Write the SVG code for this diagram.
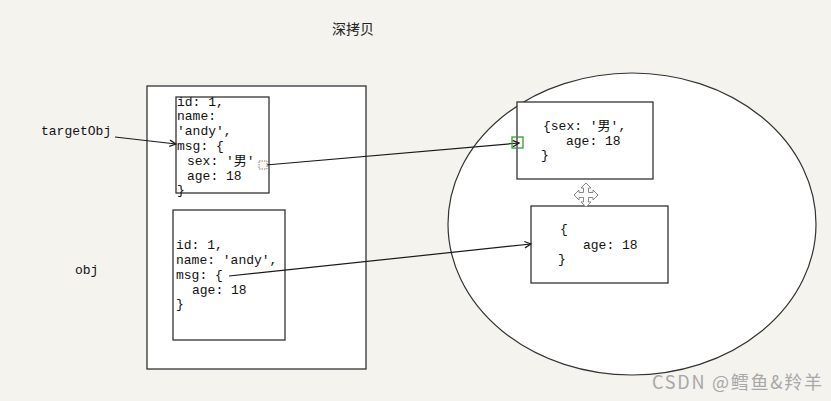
<svg xmlns="http://www.w3.org/2000/svg" width="831" height="401" viewBox="0 0 831 401">
<style>
.box{fill:#ffffff;stroke:#333333;stroke-width:1.3}
.mono{font-family:"Liberation Mono","Noto Sans CJK SC",monospace;font-size:13px;fill:#111;white-space:pre}
.cn{font-family:"Noto Sans CJK SC",sans-serif;fill:#222}
.conn{stroke:#1a1a1a;stroke-width:1.2;fill:none}
</style>
<defs>
<marker id="arr" viewBox="0 0 10 10" refX="9" refY="5" markerWidth="8" markerHeight="8" markerUnits="userSpaceOnUse" orient="auto">
<path d="M1,1 L9,5 L1,9" fill="none" stroke="#1a1a1a" stroke-width="1.6"/>
</marker>
</defs>
<rect width="831" height="401" fill="#f4f3ee"/>
<text class="cn" x="332" y="34" font-size="14">深拷贝</text>
<g id="heap">
<ellipse cx="632" cy="224" rx="184" ry="151" fill="#ffffff" stroke="#333" stroke-width="1.2"/>
</g>
<g id="obj-frame">
<rect class="box" x="147" y="86" width="219" height="283" stroke="#111"/>
</g>
<g id="targetObj-box">
<rect class="box" x="176" y="97" width="93" height="96"/>
<text class="mono" x="177" y="106">id: 1,</text>
<text class="mono" x="177" y="120">name:</text>
<text class="mono" x="177" y="135">'andy',</text>
<text class="mono" x="177" y="150">msg: {</text>
<text class="mono" x="187" y="165">sex: '男'</text>
<text class="mono" x="187" y="180">age: 18</text>
<text class="mono" x="177" y="194">}</text>
</g>
<g id="obj-box">
<rect class="box" x="173" y="210" width="112" height="130"/>
<text class="mono" x="176" y="249">id: 1,</text>
<text class="mono" x="176" y="264">name: 'andy',</text>
<text class="mono" x="176" y="279">msg: {</text>
<text class="mono" x="192" y="294">age: 18</text>
<text class="mono" x="176" y="308">}</text>
</g>
<g id="msg-copy-box">
<rect class="box" x="517" y="102" width="136" height="77"/>
<text class="mono" x="543" y="130">{sex: '男',</text>
<text class="mono" x="566" y="145">age: 18</text>
<text class="mono" x="541" y="159">}</text>
</g>
<g id="msg-orig-box">
<rect class="box" x="531" y="206" width="137" height="77"/>
<text class="mono" x="560" y="233">{</text>
<text class="mono" x="583" y="249">age: 18</text>
<text class="mono" x="558" y="263">}</text>
</g>
<g id="label-targetObj"><text class="mono" x="41" y="135">targetObj</text></g>
<g id="label-obj"><text class="mono" x="75" y="274">obj</text></g>
<g id="connectors">
<line class="conn" x1="115" y1="137" x2="176" y2="144" marker-end="url(#arr)"/>
<line class="conn" x1="266" y1="165" x2="519" y2="143" marker-end="url(#arr)"/>
<line class="conn" x1="229" y1="276" x2="531" y2="244" marker-end="url(#arr)"/>
<rect x="259" y="161" width="8" height="8" fill="#fff8f0" stroke="#888" stroke-width="1" stroke-dasharray="1.5,1"/>
<rect x="512" y="137" width="11" height="11" fill="none" stroke="#3a9a3a" stroke-width="1.3"/>
</g>
<g id="cursor" fill="#ffffff" stroke="#888" stroke-width="1">
<path d="M586,183 L591,188 L588.5,188 L588.5,192.5 L593,192.5 L593,190 L598,195 L593,200 L593,197.5 L588.5,197.5 L588.5,202 L591,202 L586,207 L581,202 L583.5,202 L583.5,197.5 L579,197.5 L579,200 L574,195 L579,190 L579,192.5 L583.5,192.5 L583.5,188 L581,188 Z"/>
</g>
<text x="652" y="389" font-family="'Noto Sans CJK SC',sans-serif" font-size="18" fill="#a8a8a8" textLength="170">CSDN @鳕鱼&amp;羚羊</text>
</svg>
